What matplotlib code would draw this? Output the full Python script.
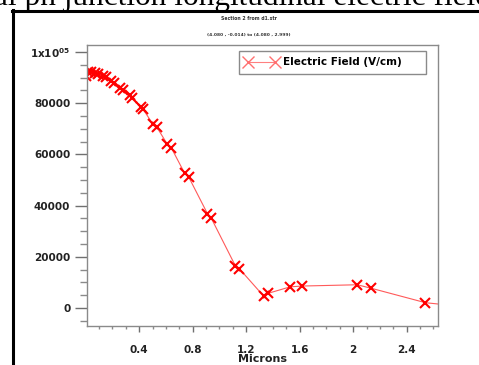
import matplotlib
matplotlib.use("Agg")
import matplotlib.pyplot as plt
from matplotlib.lines import Line2D
from matplotlib.ticker import FixedLocator, MultipleLocator, FixedFormatter

# ---- data ----
microns = [0.00, 0.02, 0.04, 0.07, 0.09, 0.13, 0.15, 0.19, 0.21, 0.26, 0.28,
           0.33, 0.35, 0.41, 0.43, 0.50, 0.53, 0.61, 0.64, 0.74, 0.77,
           0.91, 0.94, 1.12, 1.15, 1.33, 1.36, 1.53, 1.62, 2.03, 2.13, 2.54, 3.00]
efield = [90500, 92300, 92200, 91800, 91500, 90600, 90100, 88700, 88000, 86100, 85300,
          83000, 82200, 78600, 77600, 72000, 70800, 64000, 62600, 52600, 51200,
          36900, 35000, 16400, 15300, 4700, 5700, 8300, 8600, 9100, 7800, 2100, -400]
ytick_vals = [0, 20000, 40000, 60000, 80000, 100000]
ytick_labels = ["0", "20000", "40000", "60000", "80000", r"$\mathbf{1x10^{05}}$"]
xtick_vals = [0.4, 0.8, 1.2, 1.6, 2.0, 2.4]
xtick_labels = ["0.4", "0.8", "1.2", "1.6", "2", "2.4"]
series_label = "Electric Field (V/cm)"
title1 = "Section 2 from d1.str"
title2 = "(4.080 , -0.014) to (4.080 , 2.999)"
doc_text = "al pn junction longitudinal electric field"

W, H = 479, 365
fig = plt.figure(figsize=(W / 100, H / 100), dpi=100)
fig.patch.set_facecolor("white")

# axes placement in pixels
L, R, T, B = 87, 438, 45, 326
ax = fig.add_axes([L / W, 1 - B / H, (R - L) / W, (B - T) / H])

ax.plot(microns, efield, color="#ff5a5a", lw=0.8, marker="x", markersize=7,
        mec="#ff0000", mew=1.5, label=series_label)

ax.set_xlim(0.01, 2.634)
ax.set_ylim(-7000, 102700)

ax.yaxis.set_major_locator(FixedLocator(ytick_vals))
ax.yaxis.set_major_formatter(FixedFormatter(ytick_labels))
ax.yaxis.set_minor_locator(MultipleLocator(5000))
ax.xaxis.set_major_locator(FixedLocator(xtick_vals))
ax.xaxis.set_major_formatter(FixedFormatter(xtick_labels))
ax.xaxis.set_minor_locator(MultipleLocator(0.1))

for s in ax.spines.values():
    s.set_color("#8a8a8a")
    s.set_linewidth(1.0)

ax.tick_params(axis="y", which="major", length=8.5, width=1, color="#707070",
               pad=3.5, labelsize=7.5, labelcolor="#222222")
ax.tick_params(axis="y", which="minor", length=5, width=1, color="#8a8a8a")
ax.tick_params(axis="x", which="major", length=4.5, width=1, color="#707070",
               pad=9, labelsize=7.5, labelcolor="#222222")
ax.tick_params(axis="x", which="minor", length=2.5, width=1, color="#8a8a8a")
for lab in ax.get_xticklabels() + ax.get_yticklabels():
    lab.set_fontweight("bold")

ax.set_xlabel("Microns", fontsize=8, fontweight="bold", color="#222222", labelpad=-0.5)

leg = ax.legend(loc="upper right", bbox_to_anchor=(0.982, 0.997), numpoints=2,
                handlelength=3.2, handletextpad=0.5, borderpad=0.6,
                prop={"weight": "bold", "size": 7.5}, fancybox=False,
                framealpha=1, edgecolor="#8a8a8a")
leg.get_frame().set_linewidth(1.0)
for t in leg.get_texts():
    t.set_text(series_label + "\u00a0" * 5)
for h in leg.legend_handles:
    h.set_markersize(9)
    h.set_mew(1.0)
    h.set_markeredgecolor("#ff7070")
    h.set_color("#ff8080")

# small titles
fig.text(249 / W, 1 - 18 / H, title1, fontsize=3.3, fontweight="bold",
         color="#333333", ha="center", va="center")
fig.text(249 / W, 1 - 35 / H, title2, fontsize=3.2, fontweight="bold",
         color="#333333", ha="center", va="center")

# document frame (screenshot border)
fig.add_artist(Line2D([13 / W, 13 / W], [0, 1 - 10 / H], color="black", lw=2.2,
                      transform=fig.transFigure))
fig.add_artist(Line2D([12 / W, 1], [1 - 11 / H, 1 - 11 / H], color="black", lw=2.2,
                      transform=fig.transFigure))

# clipped document text above
fig.text(-6 / W, 1 - 5 / H, doc_text, fontsize=22.5, family="Liberation Serif",
         color="black", ha="left", va="baseline")

fig.savefig("out.png", dpi=100, facecolor="white")
